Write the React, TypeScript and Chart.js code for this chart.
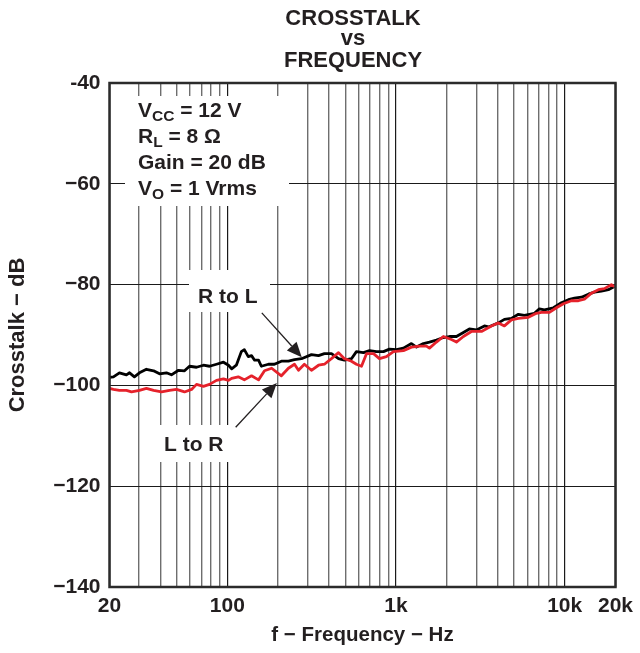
import React, { useEffect, useRef } from "react";
import { Chart, registerables } from "chart.js";

Chart.register(...registerables);

// ---- Data ----
const freqRL = [20, 21.1, 22.9, 25.2, 26.3, 28.1, 30.1, 33.1, 36.5, 39.6, 43.5, 46.6, 51.3, 55.7, 59.6, 65.6, 72.1, 78.3, 86.2, 94.8, 101.5, 106, 113, 121, 126, 133, 139, 145, 153, 159, 175, 190, 209, 230, 250, 275, 315, 347, 376, 414, 456, 494, 544, 582, 641, 696, 765, 842, 914, 1005, 1106, 1234, 1321, 1453, 1578, 1736, 1909, 2072, 2280, 2508, 2722, 2996, 3342, 3530, 4046, 4390, 4830, 5314, 5768, 6612, 7078, 7578, 8572, 9560, 10516, 11414, 12562, 13820, 14998, 16500, 18156, 19702];
const crosstalkRL = [-98.4, -98.3, -97.5, -97.9, -97.5, -98.3, -97.5, -96.8, -97.1, -97.7, -97.5, -97.9, -97.0, -97.1, -96.2, -96.4, -96.0, -96.2, -95.8, -95.4, -96.0, -96.7, -96.0, -93.3, -92.9, -94.3, -94.1, -95.0, -95.0, -96.2, -95.8, -95.8, -95.2, -95.2, -94.9, -94.7, -93.9, -94.1, -93.7, -93.7, -94.7, -95.0, -94.7, -93.3, -93.5, -93.1, -93.3, -93.3, -92.8, -92.9, -92.6, -91.7, -92.4, -91.7, -91.4, -91.0, -90.5, -90.3, -90.3, -89.5, -88.8, -89.0, -88.2, -88.4, -87.6, -86.9, -86.7, -85.9, -86.1, -85.7, -84.8, -85.0, -84.6, -83.6, -83.0, -82.7, -82.5, -81.9, -81.5, -81.3, -81.0, -80.4];

const freqLR = [20, 21.1, 22.9, 25.2, 27.0, 30.1, 33.1, 36.5, 40.7, 45.4, 49.9, 55.7, 61.3, 65.6, 72.1, 78.3, 86.2, 94.8, 101.5, 106, 116, 126, 139, 153, 166, 183, 209, 230, 250, 264, 286, 315, 347, 376, 414, 456, 494, 544, 582, 624, 668, 735, 797, 877, 965, 1106, 1234, 1376, 1514, 1578, 1736, 1909, 2130, 2280, 2508, 2798, 3208, 3678, 4046, 4390, 4830, 5314, 6092, 6794, 7274, 8116, 8930, 9824, 10956, 12056, 13086, 14400, 15840, 17190, 18914, 19702];
const crosstalkLR = [-100.6, -100.8, -101.0, -101.0, -101.3, -101.0, -100.6, -101.0, -101.3, -101.0, -100.8, -101.3, -100.8, -99.8, -100.2, -99.8, -99.0, -98.7, -99.0, -98.6, -98.3, -98.9, -98.1, -98.9, -97.1, -96.6, -98.1, -96.6, -95.8, -97.0, -95.8, -97.0, -96.0, -95.8, -94.7, -93.5, -94.7, -95.2, -95.8, -96.2, -93.7, -93.7, -94.7, -94.3, -93.3, -93.1, -92.4, -92.2, -92.2, -92.6, -91.4, -90.3, -90.9, -91.4, -90.3, -89.3, -89.3, -88.2, -87.6, -88.2, -87.0, -86.7, -86.5, -85.7, -85.5, -85.5, -84.6, -83.8, -83.2, -83.2, -82.9, -81.7, -81.0, -80.8, -80.0, -80.4];

const xTickValues = [20, 30, 40, 50, 60, 70, 80, 90, 100, 200, 300, 400, 500, 600, 700, 800, 900, 1000, 2000, 3000, 4000, 5000, 6000, 7000, 8000, 9000, 10000, 20000];
const xLabeled = [20, 100, 1000, 10000, 20000];
const xLabelText = ["20", "100", "1k", "10k", "20k"];
const xMajor = [100, 1000, 10000];

const yTickValues = [-140, -120, -100, -80, -60, -40];
const yTickLabels = ["\u2212140", "\u2212120", "\u2212100", "\u221280", "\u221260", "-40"];

const titleLines = ["CROSSTALK", "vs", "FREQUENCY"];
const conditions = [
  ["V", "CC", " = 12 V"],
  ["R", "L", " = 8 \u03a9"],
  ["Gain = 20 dB", "", ""],
  ["V", "O", " = 1 Vrms"],
];
const labelRL = "R to L";
const labelLR = "L to R";
const arrowRL = { from: [160, -85.6], to: [276, -94.4] };
const arrowLR = { from: [112, -108.3], to: [196.5, -99.5] };

const FONT = '"Liberation Sans", Arial, Helvetica, sans-serif';
const TXT = "#231f20";

function drawArrow(ctx: CanvasRenderingContext2D, x1: number, y1: number, x2: number, y2: number) {
  const ang = Math.atan2(y2 - y1, x2 - x1);
  const hl = 15, hw = 6.5;
  const bx = x2 - hl * Math.cos(ang);
  const by = y2 - hl * Math.sin(ang);
  ctx.save();
  ctx.strokeStyle = TXT;
  ctx.fillStyle = TXT;
  ctx.lineWidth = 1.3;
  ctx.beginPath();
  ctx.moveTo(x1, y1);
  ctx.lineTo(bx, by);
  ctx.stroke();
  ctx.beginPath();
  ctx.moveTo(x2, y2);
  ctx.lineTo(bx + hw * Math.sin(ang), by - hw * Math.cos(ang));
  ctx.lineTo(bx - hw * Math.sin(ang), by + hw * Math.cos(ang));
  ctx.closePath();
  ctx.fill();
  ctx.restore();
}

const annotationPlugin = {
  id: "annot",
  beforeDatasetsDraw(chart: any) {
    const ctx: CanvasRenderingContext2D = chart.ctx;
    ctx.save();
    ctx.fillStyle = "#ffffff";
    // white label backgrounds
    ctx.fillRect(125, 96, 164, 110);
    ctx.fillRect(189, 270, 81, 42);
    ctx.fillRect(152, 425, 96, 37);
    ctx.fillStyle = TXT;
    ctx.textBaseline = "alphabetic";
    ctx.textAlign = "left";
    const baselines = [117, 143, 169, 195];
    conditions.forEach((c, i) => {
      let x = 138;
      const y = baselines[i];
      ctx.font = `bold 21px ${FONT}`;
      ctx.fillText(c[0], x, y);
      x += ctx.measureText(c[0]).width;
      if (c[1]) {
        ctx.font = `bold 15.5px ${FONT}`;
        ctx.fillText(c[1], x, y + 4);
        x += ctx.measureText(c[1]).width;
      }
      if (c[2]) {
        ctx.font = `bold 21px ${FONT}`;
        ctx.fillText(c[2], x, y);
      }
    });
    ctx.font = `bold 21px ${FONT}`;
    ctx.fillText(labelRL, 198, 303);
    ctx.fillText(labelLR, 164, 451);
    ctx.restore();
  },
  afterDatasetsDraw(chart: any) {
    const ctx: CanvasRenderingContext2D = chart.ctx;
    const xs = chart.scales.x;
    const ys = chart.scales.y;
    const a = chart.chartArea;
    ctx.save();
    ctx.strokeStyle = "#2b2b2b";
    ctx.lineWidth = 2.5;
    ctx.strokeRect(a.left, a.top, a.right - a.left, a.bottom - a.top);
    ctx.restore();
    [arrowRL, arrowLR].forEach((ar) => {
      drawArrow(
        ctx,
        xs.getPixelForValue(ar.from[0]),
        ys.getPixelForValue(ar.from[1]),
        xs.getPixelForValue(ar.to[0]),
        ys.getPixelForValue(ar.to[1])
      );
    });
    ctx.save();
    ctx.fillStyle = TXT;
    ctx.textAlign = "center";
    ctx.textBaseline = "alphabetic";
    ctx.font = `bold 22px ${FONT}`;
    const tb = [25, 45, 67];
    titleLines.forEach((t, i) => ctx.fillText(t, 353, tb[i]));
    ctx.restore();
  },
};

export default function App() {
  const ref = useRef<HTMLCanvasElement | null>(null);
  useEffect(() => {
    if (!ref.current) return;
    const chart = new Chart(ref.current, {
      type: "line",
      data: {
        datasets: [
          {
            label: "L to R",
            data: freqLR.map((f, i) => ({ x: f, y: crosstalkLR[i] })),
            borderColor: "#e5222b",
            borderWidth: 2.8,
            pointRadius: 0,
            tension: 0,
            borderJoinStyle: "round",
          },
          {
            label: "R to L",
            data: freqRL.map((f, i) => ({ x: f, y: crosstalkRL[i] })),
            borderColor: "#000000",
            borderWidth: 2.8,
            pointRadius: 0,
            tension: 0,
            borderJoinStyle: "round",
          },
        ],
      },
      options: {
        animation: false,
        responsive: true,
        maintainAspectRatio: false,
        layout: { padding: { top: 83, right: 24, left: 0, bottom: 0 } },
        plugins: { legend: { display: false }, tooltip: { enabled: false }, title: { display: false } },
        scales: {
          x: {
            type: "logarithmic",
            min: 20,
            max: 20000,
            afterBuildTicks: (s: any) => {
              s.ticks = xTickValues.map((v) => ({ value: v }));
            },
            afterFit: (s: any) => {
              s.height = 66;
            },
            grid: {
              drawTicks: false,
              color: (c: any) => (c.tick && xMajor.includes(c.tick.value) ? "#1a1a1a" : "#6e6e6e"),
              lineWidth: (c: any) => (c.tick && xMajor.includes(c.tick.value) ? 1.2 : 1.4),
            },
            border: { display: false },
            ticks: {
              autoSkip: false,
              maxRotation: 0,
              padding: 7,
              color: TXT,
              font: { family: FONT, size: 21, weight: "bold" },
              callback: (v: any) => {
                const i = xLabeled.indexOf(Number(v));
                return i >= 0 ? xLabelText[i] : "";
              },
            },
            title: {
              display: true,
              text: "f \u2212 Frequency \u2212 Hz",
              color: TXT,
              font: { family: FONT, size: 20.5, weight: "bold" },
              padding: { top: 0, bottom: 5 },
            },
          },
          y: {
            type: "linear",
            min: -140,
            max: -40,
            afterBuildTicks: (s: any) => {
              s.ticks = yTickValues.map((v) => ({ value: v }));
            },
            afterFit: (s: any) => {
              s.width = 109.5;
            },
            grid: { drawTicks: false, color: "#1a1a1a", lineWidth: 1.1 },
            border: { display: false },
            ticks: {
              padding: 9,
              color: TXT,
              font: { family: FONT, size: 21, weight: "bold" },
              callback: (v: any) => {
                const i = yTickValues.indexOf(Number(v));
                return i >= 0 ? yTickLabels[i] : "";
              },
            },
            title: {
              display: true,
              text: "Crosstalk \u2212 dB",
              color: TXT,
              font: { family: FONT, size: 22, weight: "bold" },
              padding: { top: 5, bottom: 0 },
            },
          },
        },
      },
      plugins: [annotationPlugin],
    });
    return () => chart.destroy();
  }, []);
  return (
    <div style={{ position: "fixed", left: 0, top: 0, width: 640, height: 653, background: "#fff" }}>
      <canvas ref={ref} />
    </div>
  );
}
